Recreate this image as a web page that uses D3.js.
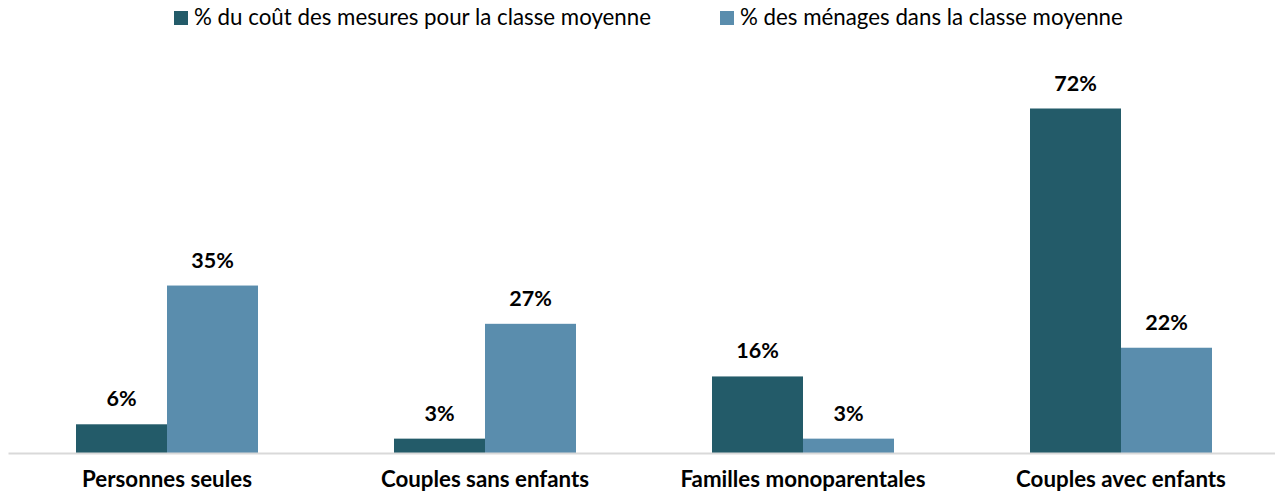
<!DOCTYPE html>
<html><head><meta charset="utf-8">
<script src="https://cdn.jsdelivr.net/npm/d3@7"></script>
<style>body{margin:0;background:#fff}svg{display:block}text{font-family:Lato,"Open Sans",sans-serif}</style>
</head><body>
<svg id="c" width="1275" height="497"></svg>
<script>
const categories = ["Personnes seules","Couples sans enfants","Familles monoparentales","Couples avec enfants"];
const seriesNames = ["% du coût des mesures pour la classe moyenne","% des ménages dans la classe moyenne"];
const coutValues = [6,3,16,72];
const menagesValues = [35,27,3,22];
const colors = ["#235b69","#5a8dad"];

const svg = d3.select("#c");
const baseline = 453;
const x0 = d3.scaleBand().domain(categories).range([8,1280]).paddingInner(0).paddingOuter(0);
const x1 = d3.scaleBand().domain([0,1]).range([68, 318-68]);
const y = d3.scaleLinear().domain([0,72]).range([baseline, 108.5]);

const data = categories.map((c,i)=>({cat:c, vals:[coutValues[i], menagesValues[i]]}));

const g = svg.append("g");
const groups = g.selectAll("g.grp").data(data).join("g").attr("transform", d=>`translate(${x0(d.cat)},0)`);
groups.selectAll("rect").data(d=>d.vals.map((v,k)=>({v,k}))).join("rect")
  .attr("x", d=>x1(d.k)).attr("width", x1.bandwidth())
  .attr("y", d=>y(d.v)).attr("height", d=>baseline - y(d.v))
  .attr("fill", d=>colors[d.k]);
groups.selectAll("text.val").data(d=>d.vals.map((v,k)=>({v,k}))).join("text")
  .attr("class","val")
  .attr("x", d=>x1(d.k)+x1.bandwidth()/2).attr("y", d=>y(d.v)-18)
  .attr("text-anchor","middle").attr("font-weight","bold").attr("font-size","21.5px").attr("fill","#000")
  .text(d=>d.v+"%");

// axis
const axis = d3.axisBottom(x0).tickSize(0).tickPadding(0);
const ax = svg.append("g").attr("transform",`translate(0,${baseline})`).call(axis);
ax.select(".domain").attr("stroke","#d9d9d9").attr("stroke-width",2);
ax.selectAll(".tick text").attr("y",34).attr("dy",0).attr("font-size","22.3px").attr("font-weight","bold").attr("fill","#000").attr("font-family","Lato, sans-serif");

// legend
const legX = [174, 720];
const leg = svg.append("g");
seriesNames.forEach((n,i)=>{
  leg.append("rect").attr("x",legX[i]).attr("y",11).attr("width",14).attr("height",14).attr("fill",colors[i]);
  leg.append("text").attr("x",legX[i]+20).attr("y",25).attr("font-size","22.3px").attr("fill","#000").text(n);
});
</script>
</body></html>
